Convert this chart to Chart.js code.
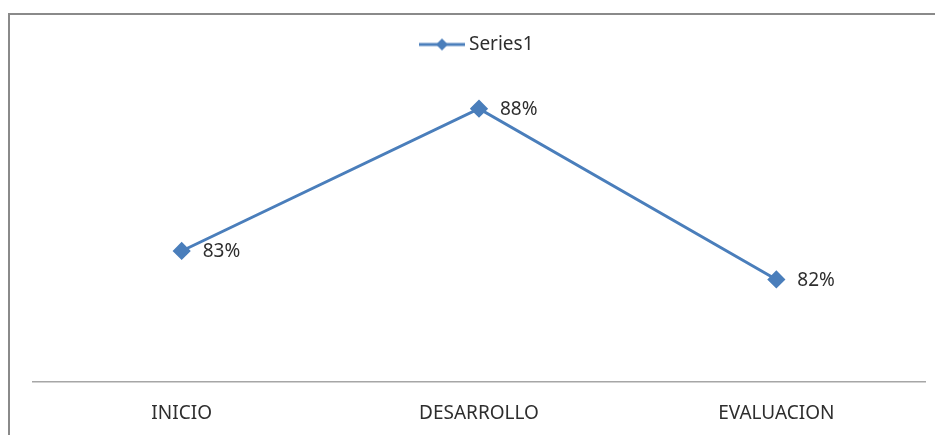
<!DOCTYPE html>
<html>
<head>
<meta charset="utf-8">
<script src="https://cdn.jsdelivr.net/npm/chart.js@4/dist/chart.umd.min.js"></script>
<style>
  html, body { margin: 0; padding: 0; background: #fff; overflow: hidden; }
  #frame { position: absolute; left: 8px; top: 13px; width: 960px; height: 460px;
           border-left: 2px solid #8a8a8a; border-top: 2px solid #8a8a8a; }
  #wrap { position: absolute; left: 0; top: 0; width: 935px; height: 445px; }
</style>
</head>
<body>
<div id="frame"></div>
<div id="wrap"><canvas id="chart" width="935" height="445"></canvas></div>
<script>
// Stage names and the percentage reached at each one
const categories = ['INICIO', 'DESARROLLO', 'EVALUACION'];
const seriesName = 'Series1';
const values = [83, 88, 82];

const LINE_COLOR = '#4a7ebb';
const TEXT_COLOR = '#2e2e2e';
const FONT = { family: '"Noto Sans", sans-serif', size: 19 };

// Legend symbol: a short line with a diamond in the middle
function legendSymbol() {
  const c = document.createElement('canvas');
  c.width = 46; c.height = 16;
  const g = c.getContext('2d');
  g.strokeStyle = LINE_COLOR;
  g.lineWidth = 3;
  g.beginPath(); g.moveTo(0, 8); g.lineTo(46, 8); g.stroke();
  g.fillStyle = LINE_COLOR;
  g.beginPath(); g.moveTo(23, 2); g.lineTo(29, 8); g.lineTo(23, 14); g.lineTo(17, 8); g.closePath(); g.fill();
  return c;
}

// Writes each point's value beside it
const valueLabels = {
  id: 'valueLabels',
  afterDatasetsDraw(chart) {
    const ctx = chart.ctx;
    const meta = chart.getDatasetMeta(0);
    ctx.save();
    ctx.font = `${FONT.size}px ${FONT.family}`;
    ctx.fillStyle = TEXT_COLOR;
    ctx.textAlign = 'left';
    ctx.textBaseline = 'middle';
    meta.data.forEach((pt, i) => {
      ctx.fillText(values[i] + '%', pt.x + 21, pt.y + 1);
    });
    ctx.restore();
  }
};

const symbol = legendSymbol();

new Chart(document.getElementById('chart'), {
  type: 'line',
  data: {
    labels: categories,
    datasets: [{
      label: seriesName,
      data: values,
      borderColor: LINE_COLOR,
      backgroundColor: LINE_COLOR,
      borderWidth: 3,
      pointStyle: 'rectRot',
      pointRadius: 7,
      pointHoverRadius: 7,
      tension: 0
    }]
  },
  options: {
    responsive: false,
    animation: false,
    layout: { padding: { left: 33, right: 10, top: 25, bottom: 0 } },
    plugins: {
      tooltip: { enabled: false },
      legend: {
        position: 'top',
        labels: {
          color: TEXT_COLOR,
          font: FONT,
          usePointStyle: true,
          pointStyleWidth: 35,
          generateLabels: (chart) => [{
            text: seriesName,
            pointStyle: symbol,
            fillStyle: LINE_COLOR,
            strokeStyle: LINE_COLOR,
            lineWidth: 0,
            datasetIndex: 0,
            fontColor: TEXT_COLOR
          }]
        }
      }
    },
    scales: {
      x: {
        offset: true,
        grid: { display: false, drawTicks: false },
        border: { display: true, color: '#a6a6a6', width: 1.5 },
        ticks: { color: TEXT_COLOR, font: FONT, padding: 20, maxRotation: 0 }
      },
      y: {
        display: false,
        min: 78.39,
        max: 89.57
      }
    }
  },
  plugins: [valueLabels]
});
</script>
</body>
</html>
